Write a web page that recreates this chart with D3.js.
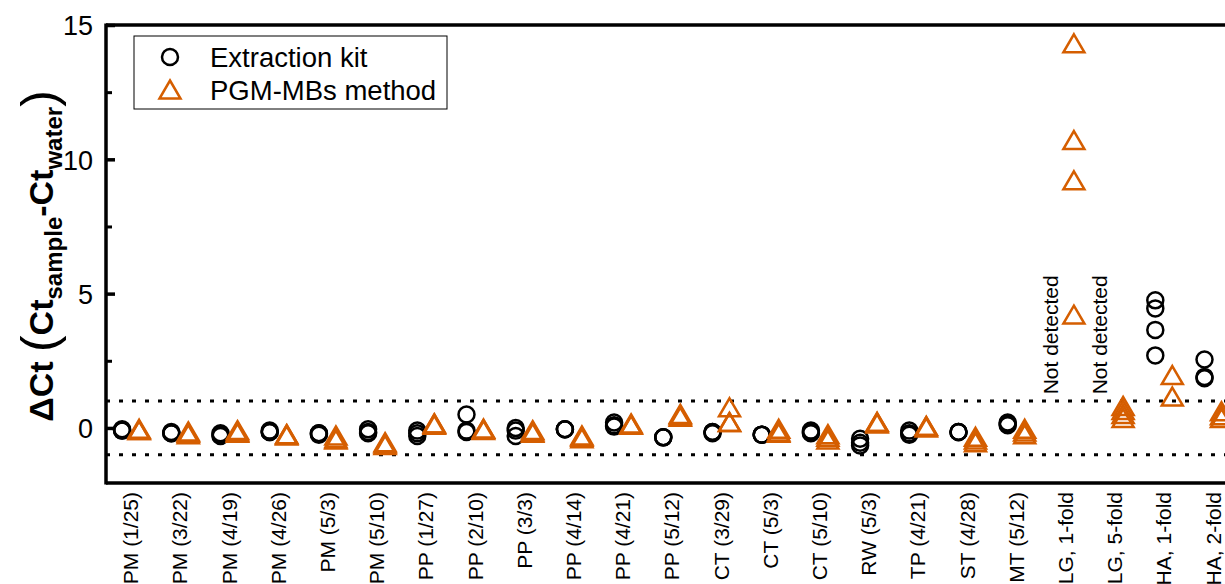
<!DOCTYPE html>
<html lang="en">
<head>
    <meta charset="UTF-8">
    <title>Delta Ct comparison</title>
    <style>
        body {
            margin: 0;
            background: #fff;
            font-family: "Liberation Sans", Arial, sans-serif;
        }
        svg {
            display: block;
        }
        .tick-label {
            font-size: 27px;
        }
        .cat-label {
            font-size: 21px;
        }
        .legend-text {
            font-size: 27.5px;
        }
    </style>
    <script src="https://d3js.org/d3.v7.min.js"></script>
</head>
<body>
    <svg id="chart" width="1225" height="584"></svg>
    <script>
        const categories = ["PM (1/25)", "PM (3/22)", "PM (4/19)", "PM (4/26)", "PM (5/3)", "PM (5/10)",
            "PP (1/27)", "PP (2/10)", "PP (3/3)", "PP (4/14)", "PP (4/21)", "PP (5/12)",
            "CT (3/29)", "CT (5/3)", "CT (5/10)", "RW (5/3)", "TP (4/21)", "ST (4/28)", "MT (5/12)",
            "LG, 1-fold", "LG, 5-fold", "HA, 1-fold", "HA, 2-fold"];

        // Extraction kit (circles), one list per category
        const kitValues = [
            [-0.05, -0.1, -0.1], [-0.15, -0.2, -0.2], [-0.2, -0.25, -0.3], [-0.1, -0.15, -0.15],
            [-0.2, -0.2, -0.25], [-0.05, -0.15, -0.2], [-0.1, -0.2, -0.3], [0.5, -0.1, -0.15],
            [0.0, -0.1, -0.3], [-0.05, -0.05, -0.05], [0.2, 0.1, 0.05], [-0.35, -0.35, -0.35],
            [-0.15, -0.15, -0.2], [-0.25, -0.25, -0.25], [-0.1, -0.15, -0.2], [-0.4, -0.55, -0.65],
            [-0.1, -0.2, -0.25], [-0.15, -0.15, -0.15], [0.2, 0.15, 0.1],
            [], [], [4.75, 4.45, 3.65, 2.7], [2.55, 1.9, 1.85]
        ];

        // PGM-MBs method (triangles)
        const pgmValues = [
            [-0.05, -0.1, -0.1], [-0.15, -0.2, -0.25], [-0.1, -0.15, -0.2], [-0.25, -0.25, -0.3],
            [-0.3, -0.4, -0.45], [-0.55, -0.6, -0.65], [0.15, 0.15, 0.1], [-0.05, -0.05, -0.1],
            [-0.1, -0.15, -0.2], [-0.3, -0.35, -0.4], [0.15, 0.1, 0.1], [0.5, 0.45, 0.4],
            [0.75, 0.2, 0.2], [-0.05, -0.15, -0.2], [-0.25, -0.35, -0.45], [0.2, 0.2, 0.15],
            [0.05, 0.05, 0.0], [-0.35, -0.45, -0.55], [-0.05, -0.15, -0.25],
            [14.3, 10.7, 9.2, 4.2], [0.8, 0.65, 0.5, 0.35], [1.95, 1.15], [0.6, 0.45, 0.35]
        ];

        const notDetected = ["LG, 1-fold", "LG, 5-fold"];
        const majorTicks = [0, 5, 10, 15];
        const minorTicks = [2.5, 7.5, 12.5];
        const thresholds = [1, -1];

        const orange = "#D55E00";
        const svg = d3.select("#chart");

        const x = d3.scaleLinear().domain([0.5, 23.5]).range([106, 106 + 49.2 * 23]);
        const y = d3.scaleLinear().domain([-2.05, 15]).range([483, 25]);
        const off = 8.5;

        // threshold lines
        svg.selectAll(".thr")
            .data(thresholds)
            .enter().append("line")
            .attr("x1", x(0.5)).attr("x2", x(23.5))
            .attr("y1", d => y(d)).attr("y2", d => y(d))
            .attr("stroke", "#000")
            .attr("stroke-width", 3)
            .attr("stroke-dasharray", "4,9");

        // y axis, ticks pointing inward
        const yAxis = svg.append("g")
            .attr("transform", `translate(${x(0.5)},0)`)
            .call(d3.axisLeft(y).tickValues(majorTicks).tickSizeInner(-9).tickSizeOuter(0).tickPadding(13));
        yAxis.select(".domain").remove();
        yAxis.selectAll(".tick line").attr("stroke-width", 3.5);
        yAxis.selectAll(".tick text")
            .attr("class", "tick-label")
            .attr("font-family", null).attr("font-size", null)
            .attr("dy", "0.36em");

        const yMinor = svg.append("g")
            .attr("transform", `translate(${x(0.5)},0)`)
            .call(d3.axisLeft(y).tickValues(minorTicks).tickSizeInner(-6).tickSizeOuter(0).tickFormat(""));
        yMinor.select(".domain").remove();
        yMinor.selectAll(".tick line").attr("stroke-width", 3);

        // frame: left, top, bottom
        svg.append("line").attr("x1", x(0.5)).attr("x2", x(0.5)).attr("y1", y(15) - 1.5).attr("y2", y(-2.05) + 1.5)
            .attr("stroke", "#000").attr("stroke-width", 3.5);
        svg.append("line").attr("x1", x(0.5)).attr("x2", x(23.5)).attr("y1", y(15)).attr("y2", y(15))
            .attr("stroke", "#000").attr("stroke-width", 3.5);
        svg.append("line").attr("x1", x(0.5)).attr("x2", x(23.5)).attr("y1", y(-2.05)).attr("y2", y(-2.05))
            .attr("stroke", "#000").attr("stroke-width", 3.5);

        // category labels
        svg.selectAll(".cat-label")
            .data(categories)
            .enter().append("text")
            .attr("class", "cat-label")
            .attr("transform", (d, i) => `translate(${x(i + 1) + 7.5},492) rotate(-90)`)
            .attr("text-anchor", "end")
            .text(d => d);

        // not detected notes
        notDetected.forEach(name => {
            const i = categories.indexOf(name);
            svg.append("text")
                .attr("class", "cat-label")
                .attr("transform", `translate(${x(i + 1) - off + 1},${y(1.25)}) rotate(-90)`)
                .attr("text-anchor", "start")
                .text("Not detected");
        });

        const triPath = "M0,-9.5L10.5,8.5L-10.5,8.5Z";

        const kitPoints = kitValues.flatMap((vals, i) => vals.map(v => ({ i, v })));
        const pgmPoints = pgmValues.flatMap((vals, i) => vals.map(v => ({ i, v })));

        svg.append("g").selectAll("circle")
            .data(kitPoints)
            .enter().append("circle")
            .attr("cx", d => x(d.i + 1) - off)
            .attr("cy", d => y(d.v))
            .attr("r", 8)
            .attr("fill", "none")
            .attr("stroke", "#000")
            .attr("stroke-width", 2.5);

        svg.append("g").selectAll("path")
            .data(pgmPoints)
            .enter().append("path")
            .attr("d", triPath)
            .attr("transform", d => `translate(${x(d.i + 1) + off},${y(d.v)})`)
            .attr("fill", "none")
            .attr("stroke", orange)
            .attr("stroke-width", 2.5)
            .attr("stroke-linejoin", "miter");

        // legend
        const legend = svg.append("g");
        legend.append("rect")
            .attr("x", 134).attr("y", 36).attr("width", 313).attr("height", 73)
            .attr("fill", "#fff").attr("stroke", "#000").attr("stroke-width", 1);
        legend.append("circle").attr("cx", 170).attr("cy", 57).attr("r", 8)
            .attr("fill", "none").attr("stroke", "#000").attr("stroke-width", 2.5);
        legend.append("path").attr("d", triPath).attr("transform", "translate(170,90)")
            .attr("fill", "none").attr("stroke", orange).attr("stroke-width", 2.5);
        legend.append("text").attr("class", "legend-text").attr("x", 210).attr("y", 67).text("Extraction kit");
        legend.append("text").attr("class", "legend-text").attr("x", 210).attr("y", 100).text("PGM-MBs method");

        // y axis title
        const title = svg.append("text")
            .attr("transform", "translate(53,256) rotate(-90)")
            .attr("text-anchor", "middle")
            .attr("font-weight", "bold")
            .attr("font-size", 34);
        title.append("tspan").text("\u0394Ct ");
        title.append("tspan").attr("font-weight", "normal").attr("font-size", 50).attr("dy", 3).text("(");
        title.append("tspan").attr("dy", -3).text("Ct");
        title.append("tspan").attr("font-size", 24).attr("dy", 9).text("sample");
        title.append("tspan").attr("dy", -9).text("-Ct");
        title.append("tspan").attr("font-size", 24).attr("dy", 9).text("water");
        title.append("tspan").attr("font-weight", "normal").attr("font-size", 50).attr("dy", -6).text(")");
    </script>
</body>
</html>
